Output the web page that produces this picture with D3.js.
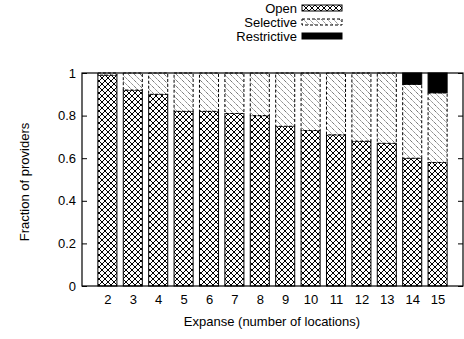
<!DOCTYPE html>
<html>
<head>
<meta charset="utf-8">
<script src="https://cdn.jsdelivr.net/npm/d3@7"></script>
<style>
body { margin: 0; background: #fff; }
text { font-family: "Liberation Sans", Arial, sans-serif; }
</style>
</head>
<body>
<script>
var width = 464, height = 339;
var margin = {left: 82, right: 1, top: 73, bottom: 53};

var categories = ["2","3","4","5","6","7","8","9","10","11","12","13","14","15"];
var openVals = [0.99, 0.92, 0.90, 0.82, 0.82, 0.81, 0.80, 0.75, 0.73, 0.71, 0.68, 0.67, 0.60, 0.58];
var selectiveVals = [0.01, 0.08, 0.10, 0.18, 0.18, 0.19, 0.20, 0.25, 0.27, 0.29, 0.32, 0.33, 0.347, 0.327];
var restrictiveVals = [0, 0, 0, 0, 0, 0, 0, 0, 0, 0, 0, 0, 0.053, 0.093];
var yTicks = [0, 0.2, 0.4, 0.6, 0.8, 1];
var seriesNames = ["Open", "Selective", "Restrictive"];

var rows = categories.map(function(c, i) {
	return {cat: c, i: i, Open: openVals[i], Selective: selectiveVals[i], Restrictive: restrictiveVals[i]};
});

var svg = d3.select("body")
	.append("svg")
	.attr("width", width)
	.attr("height", height);

var defs = svg.append("defs");

// crosshatch for Open
var p1 = defs.append("pattern")
	.attr("id", "cross")
	.attr("patternUnits", "userSpaceOnUse")
	.attr("width", 6)
	.attr("height", 6);
p1.append("rect").attr("width", 6).attr("height", 6).attr("fill", "#fff");
p1.append("path")
	.attr("d", "M0,0L6,6M6,0L0,6")
	.attr("stroke", "#000")
	.attr("stroke-width", 1);

// back diagonal for Selective
var p2 = defs.append("pattern")
	.attr("id", "diag")
	.attr("patternUnits", "userSpaceOnUse")
	.attr("width", 6)
	.attr("height", 6);
p2.append("rect").attr("width", 6).attr("height", 6).attr("fill", "#fff");
p2.append("path")
	.attr("d", "M-1,-1L7,7M-1,5L1,7M5,-1L7,1")
	.attr("stroke", "#000")
	.attr("stroke-width", 0.7)
	.attr("stroke-dasharray", "1.2,0.8");

var fills = {Open: "url(#cross)", Selective: "url(#diag)", Restrictive: "#000"};
var dashes = {Open: null, Selective: "3,2", Restrictive: null};

var x = d3.scaleLinear()
	.domain([-1, categories.length])
	.range([margin.left, width - margin.right]);
var step = x(1) - x(0);
var barW = step * 0.75;

var y = d3.scaleLinear()
	.domain([0, 1])
	.range([height - margin.bottom, margin.top]);

var stack = d3.stack().keys(seriesNames);
var layers = stack(rows);

svg.selectAll("g.layer")
	.data(layers)
	.enter()
	.append("g")
	.attr("class", "layer")
	.each(function(layer) {
		d3.select(this).selectAll("rect")
			.data(layer.filter(function(d) { return d[1] - d[0] > 0; }))
			.enter()
			.append("rect")
			.attr("x", function(d) { return x(d.data.i) - barW / 2; })
			.attr("y", function(d) { return y(d[1]); })
			.attr("width", barW)
			.attr("height", function(d) { return y(d[0]) - y(d[1]); })
			.attr("fill", fills[layer.key])
			.attr("stroke", "#000")
			.attr("stroke-width", 1)
			.attr("stroke-dasharray", dashes[layer.key]);
	});

// frame
svg.append("rect")
	.attr("x", margin.left)
	.attr("y", margin.top)
	.attr("width", width - margin.right - margin.left)
	.attr("height", height - margin.bottom - margin.top)
	.attr("fill", "none")
	.attr("stroke", "#000")
	.attr("stroke-width", 1.2);

var yAxis = svg.append("g")
	.attr("transform", "translate(" + margin.left + ",0)")
	.call(d3.axisLeft(y).tickValues(yTicks).tickFormat(d3.format("")).tickSizeInner(-5).tickSizeOuter(0).tickPadding(6));
yAxis.select(".domain").remove();
yAxis.selectAll("text").attr("font-size", 13).attr("font-family", null).attr("fill", "#000");

var yAxisR = svg.append("g")
	.attr("transform", "translate(" + (width - margin.right) + ",0)")
	.call(d3.axisRight(y).tickValues(yTicks).tickFormat("").tickSizeInner(-5).tickSizeOuter(0));
yAxisR.select(".domain").remove();

var xAxis = svg.append("g")
	.attr("transform", "translate(0," + (height - margin.bottom) + ")")
	.call(d3.axisBottom(x).tickValues(d3.range(categories.length))
		.tickFormat(function(d) { return categories[d]; })
		.tickSize(0).tickPadding(9));
xAxis.select(".domain").remove();
xAxis.selectAll("text").attr("font-size", 13).attr("font-family", null).attr("fill", "#000");

svg.append("text")
	.attr("x", 272)
	.attr("y", 326)
	.attr("text-anchor", "middle")
	.attr("font-size", 13)
	.text("Expanse (number of locations)");

svg.append("text")
	.attr("transform", "translate(29," + 182 + ") rotate(-90)")
	.attr("text-anchor", "middle")
	.attr("font-size", 13)
	.text("Fraction of providers");

// legend
var legend = svg.selectAll("g.legend")
	.data(seriesNames)
	.enter()
	.append("g")
	.attr("class", "legend")
	.attr("transform", function(d, i) { return "translate(0," + (8 + i * 14) + ")"; });

legend.append("text")
	.attr("x", 297)
	.attr("y", 0)
	.attr("dy", "0.35em")
	.attr("text-anchor", "end")
	.attr("font-size", 13)
	.text(function(d) { return d; });

legend.append("rect")
	.attr("x", 302)
	.attr("y", -3)
	.attr("width", 40)
	.attr("height", 6)
	.attr("fill", function(d) { return fills[d]; })
	.attr("stroke", "#000")
	.attr("stroke-width", 1)
	.attr("stroke-dasharray", function(d) { return dashes[d]; });
</script>
</body>
</html>
